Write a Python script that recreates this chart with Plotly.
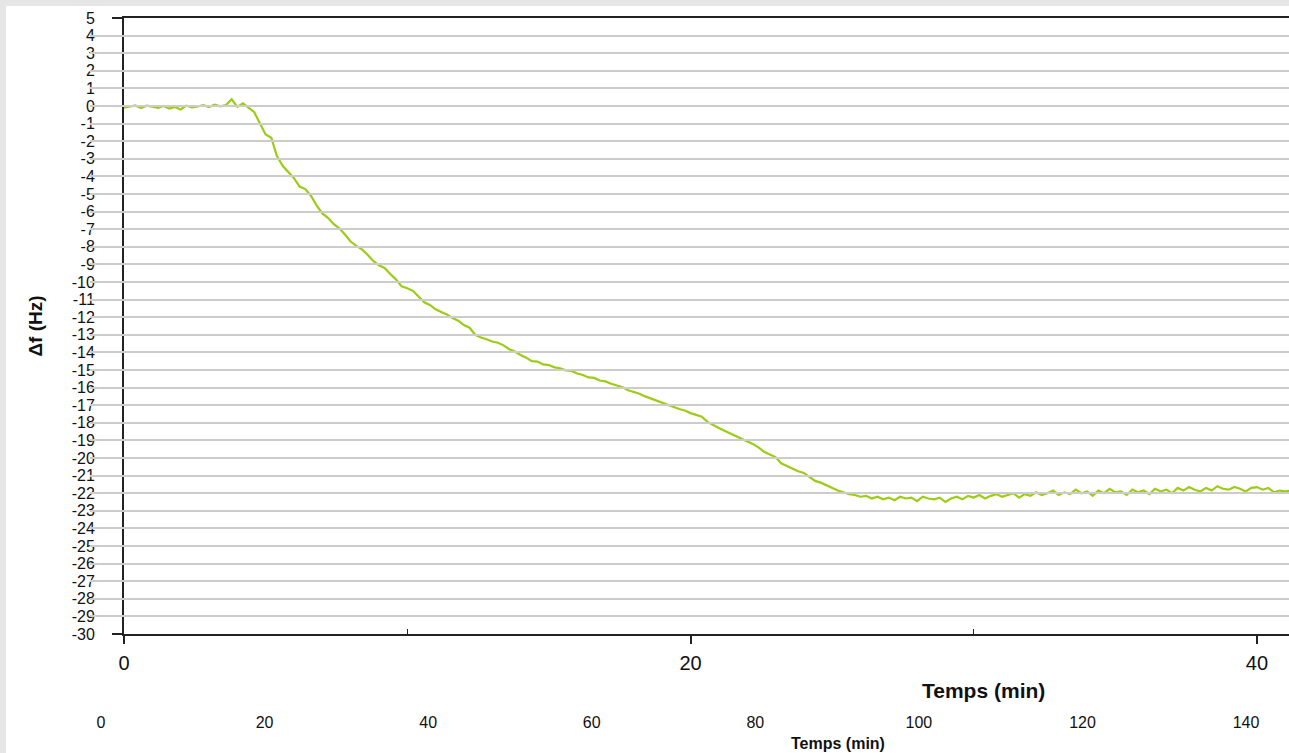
import plotly.graph_objects as go

# Time grid (min) and Δf values (Hz), every 0.2 min
df_hz = [
    -0.10, -0.02, 0.03, -0.12, 0.02, -0.04, -0.10, 0.00, -0.15, -0.05,
    -0.20, 0.02, -0.08, -0.03, 0.05, -0.06, 0.08, -0.02, 0.05, 0.38,
    -0.05, 0.15, -0.12, -0.35, -1.00, -1.62, -1.80, -2.85, -3.40, -3.72,
    -4.10, -4.58, -4.72, -5.10, -5.65, -6.10, -6.35, -6.70, -6.95, -7.30,
    -7.70, -7.95, -8.15, -8.45, -8.80, -9.05, -9.20, -9.55, -9.85, -10.25,
    -10.35, -10.50, -10.80, -11.15, -11.30, -11.55, -11.70, -11.85, -12.05, -12.20,
    -12.45, -12.60, -13.00, -13.15, -13.25, -13.38, -13.45, -13.60, -13.82, -13.95,
    -14.15, -14.30, -14.50, -14.52, -14.68, -14.72, -14.85, -14.90, -15.02, -15.05,
    -15.20, -15.28, -15.42, -15.45, -15.60, -15.65, -15.78, -15.88, -15.98, -16.15,
    -16.25, -16.35, -16.50, -16.62, -16.75, -16.90, -17.00, -17.10, -17.22, -17.30,
    -17.45, -17.55, -17.65, -17.95, -18.15, -18.30, -18.45, -18.60, -18.75, -18.88,
    -19.05, -19.20, -19.40, -19.65, -19.80, -19.95, -20.30, -20.45, -20.60, -20.75,
    -20.85, -21.10, -21.30, -21.40, -21.55, -21.70, -21.85, -21.95, -22.05, -22.10,
    -22.20, -22.15, -22.30, -22.20, -22.35, -22.25, -22.40, -22.20, -22.30, -22.25,
    -22.45, -22.20, -22.30, -22.35, -22.25, -22.50, -22.30, -22.20, -22.35, -22.15,
    -22.25, -22.10, -22.30, -22.15, -22.05, -22.20, -22.10, -22.00, -22.25, -22.05,
    -22.15, -21.95, -22.10, -22.00, -21.85, -22.10, -21.95, -22.05, -21.80, -22.00,
    -21.90, -22.15, -21.85, -22.00, -21.75, -21.95, -21.90, -22.10, -21.80, -21.95,
    -21.85, -22.05, -21.75, -21.90, -21.80, -22.00, -21.70, -21.85, -21.65, -21.80,
    -21.90, -21.70, -21.85, -21.60, -21.75, -21.80, -21.65, -21.75, -21.90, -21.70,
    -21.65, -21.80, -21.70, -21.95, -21.85, -21.90, -21.85,
]
time_min = [round(i * 0.2, 1) for i in range(len(df_hz))]

y_ticks = list(range(-30, 6))
y_ticklabels = [str(v) for v in y_ticks]
x_ticks = [0, 20, 40]
x2_ticks = [0, 20, 40, 60, 80, 100, 120, 140]

W, H = 1289, 753
L, R, T, B = 90, 0, 18, 10
PW, PH = W - L - R, H - T - B


def px_x(px):
    return (px - L) / PW


def px_y(py):
    return (H - B - py) / PH


fig = go.Figure()
fig.add_trace(go.Scatter(
    x=time_min, y=df_hz, mode="lines",
    line=dict(color="#9ccc14", width=2.2),
    showlegend=False, xaxis="x", yaxis="y",
))
# invisible trace to activate the second (lower) time axis
fig.add_trace(go.Scatter(
    x=[x2_ticks[0]], y=[None], mode="lines", showlegend=False,
    xaxis="x2", yaxis="y", hoverinfo="skip",
))

font_main = "Arial, Liberation Sans, sans-serif"

fig.update_layout(
    width=W, height=H,
    margin=dict(l=L, r=R, t=T, b=B),
    paper_bgcolor="#e6e6e6",
    plot_bgcolor="rgba(0,0,0,0)",
    font=dict(family=font_main, color="#111111"),
    xaxis=dict(
        domain=[px_x(124), 1], anchor="y", range=[0, 41.13],
        tickvals=x_ticks, ticktext=[str(v) for v in x_ticks],
        ticks="outside", ticklen=8, tickwidth=1.5, tickcolor="#222",
        ticklabelstandoff=2,
        minor=dict(tickvals=[10, 30], ticks="inside", ticklen=5, tickwidth=1.2, tickcolor="#222", showgrid=False),
        showline=True, linecolor="#222", linewidth=2, mirror=True,
        showgrid=False, zeroline=False,
        tickfont=dict(size=20, family=font_main, color="#111"),
    ),
    xaxis2=dict(
        domain=[0, 1], anchor="free", position=px_y(709),
        side="bottom", range=[(L - 101) / 8.179, (W - 101) / 8.179],
        tickvals=x2_ticks, ticktext=[str(v) for v in x2_ticks],
        ticks="", showline=False, showgrid=False, zeroline=False,
        ticklabelstandoff=2,
        tickfont=dict(size=16, family=font_main, color="#111"),
    ),
    yaxis=dict(
        domain=[px_y(634), 1], anchor="x", range=[-30, 5],
        tickvals=y_ticks, ticktext=y_ticklabels,
        ticks="outside", ticklen=10, tickwidth=1.5, tickcolor="#222",
        ticklabelstandoff=14,
        showline=True, linecolor="#222", linewidth=2,
        showgrid=True, gridcolor="#cccccc", gridwidth=1.6,
        zeroline=False,
        tickfont=dict(size=16, family=font_main, color="#111"),
        title=dict(text="<b>Δf (Hz)</b>", font=dict(size=19, family=font_main, color="#111"), standoff=24),
        automargin=False,
    ),
    shapes=[
        dict(type="rect", xref="paper", yref="paper",
             x0=px_x(6), x1=px_x(W + 5), y0=px_y(H + 5), y1=px_y(6),
             fillcolor="white", line=dict(width=0), layer="below"),
    ],
    annotations=[
        dict(text="<b>Temps (min)</b>", xref="paper", yref="paper",
             x=px_x(983), y=px_y(690), xanchor="center", yanchor="middle", showarrow=False,
             font=dict(size=21, family=font_main, color="#111")),
        dict(text="<b>Temps (min)</b>", xref="paper", yref="paper",
             x=px_x(838), y=px_y(743), xanchor="center", yanchor="middle", showarrow=False,
             font=dict(size=16, family=font_main, color="#111")),
    ],
)

fig.write_html("out.html")
